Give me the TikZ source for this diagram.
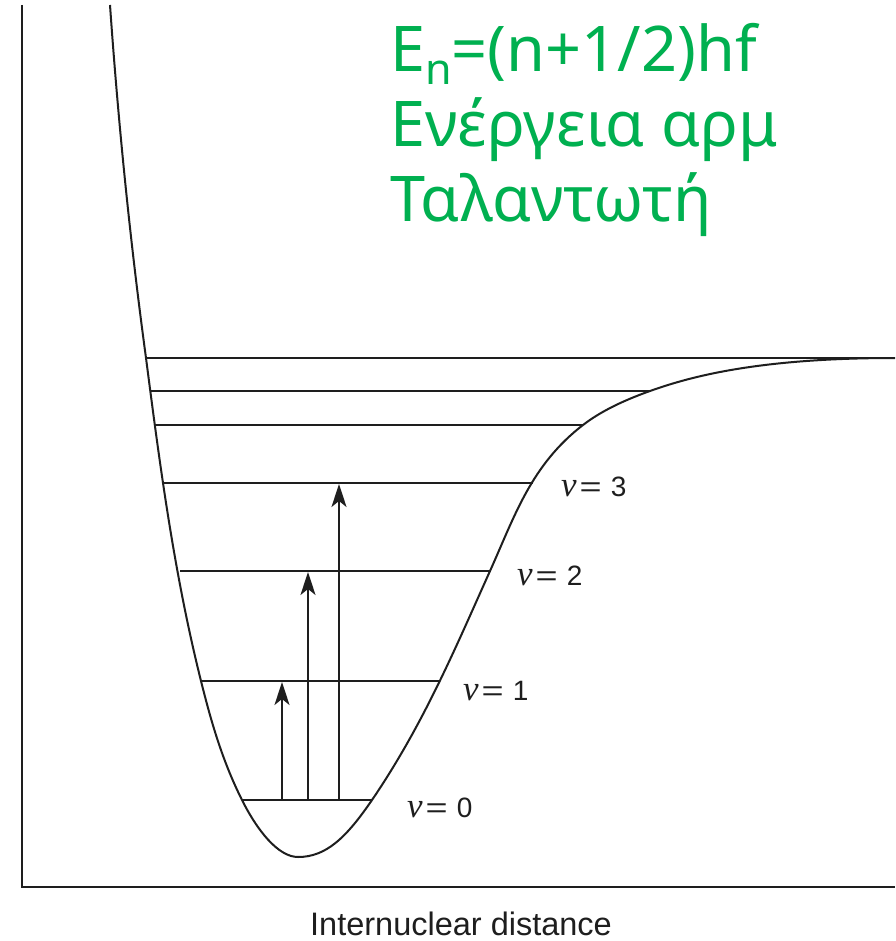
\documentclass[tikz,border=0pt]{standalone}
\usepackage{fontspec}
\setmainfont{Liberation Sans}
\newfontfamily\greenfont{Noto Sans}
\newfontfamily\vfont{Liberation Serif}
\usetikzlibrary{arrows.meta}
\definecolor{xlgreen}{RGB}{0,176,80}
\definecolor{ink}{RGB}{30,30,30}
\tikzset{
  axisline/.style={draw=ink, line width=2.6pt, line join=miter},
  potcurve/.style={draw=ink, line width=2pt, line join=round},
  levelline/.style={draw=ink, line width=1.9pt},
  transarrow/.style={draw=ink, line width=1.9pt, -{Stealth[length=23pt,width=15pt,inset=6pt]}},
  vlabel/.style={inner sep=0pt, anchor=base west, text=ink, font=\fontsize{28}{32}\selectfont},
  greentext/.style={inner sep=0pt, anchor=base west, text=xlgreen, font=\greenfont\fontsize{63}{76}\selectfont},
}
\newcommand{\vsym}{{\vfont\itshape\fontsize{35}{36}\selectfont v}}
\newcommand{\veq}[1]{\vsym\hspace{3pt}\scalebox{1.35}[1]{=}\hspace{9pt}#1}
\begin{document}
\begin{tikzpicture}[x=1pt,y=-1pt]
\useasboundingbox (0,0) rectangle (895,941);
\fill[white] (0,0) rectangle (895,941);
% axes
\draw[axisline] (22,5) -- (22,887) -- (895,887);
% energy levels
\draw[levelline] (146,358) -- (895,358);
\draw[levelline] (151,391) -- (650,391);
\draw[levelline] (155,425) -- (583,425);
\draw[levelline] (163,483) -- (533,483);
\draw[levelline] (180,571) -- (490,571);
\draw[levelline] (201,681) -- (440,681);
\draw[levelline] (242,800) -- (372,800);
% potential curve
\draw[potcurve] (110,5)
  .. controls (118.3,123) and (130,240) .. (146,358)
  .. controls (160,466) and (174,573) .. (201,681)
  .. controls (211,721) and (222,760) .. (242,800)
  .. controls (257,830) and (278,857) .. (298,857)
  .. controls (326,857) and (346,838) .. (372,800)
  .. controls (423.7,724) and (455.8,647) .. (490,571)
  .. controls (514.75,516) and (531,465) .. (583,425)
  .. controls (598.6,413) and (619.2,402) .. (650,391)
  .. controls (692,376) and (760,358) .. (895,358);
% arrows
\coordinate (a0) at (282,800); \coordinate (a1) at (282,682);
\coordinate (b0) at (308,800); \coordinate (b2) at (308,572);
\coordinate (c0) at (339,800); \coordinate (c3) at (339,484);
\draw[transarrow] (a0) -- (a1);
\draw[transarrow] (b0) -- (b2);
\draw[transarrow] (c0) -- (c3);
% labels
\node[vlabel] (v3) at (561,496) {\veq{3}};
\node[vlabel] (v2) at (517,585) {\veq{2}};
\node[vlabel] (v1) at (463,700) {\veq{1}};
\node[vlabel] (v0) at (407,817) {\veq{0}};
\node[inner sep=0pt, anchor=base, font=\fontsize{32.5}{36}\selectfont, text=ink] (xlab) at (461,935) {Internuclear distance};
% green text
\node[greentext] (g1) at (390,72) {E\raisebox{-13pt}{\fontsize{43}{43}\selectfont n}=(n+1/2)hf};
\node[greentext] (g2) at (390,147) {Ενέργεια αρμ};
\node[greentext] (g3) at (390,222) {Ταλαντωτή};
\end{tikzpicture}
\end{document}
